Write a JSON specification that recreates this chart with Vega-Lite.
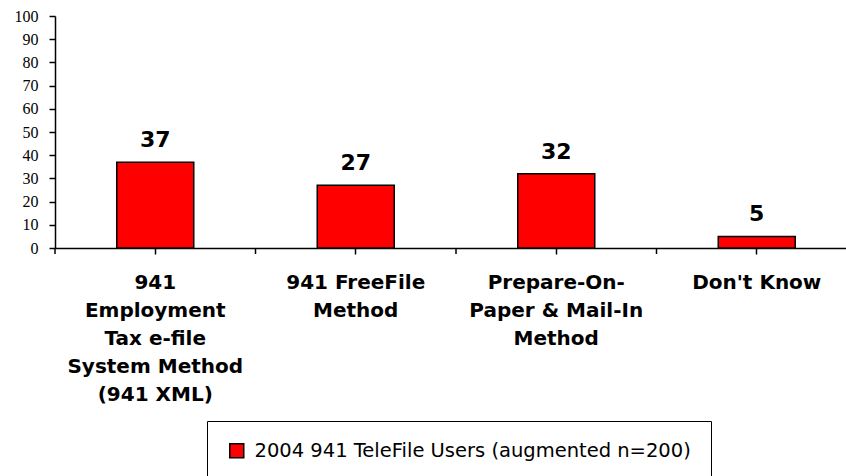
{
  "$schema": "https://vega.github.io/schema/vega-lite/v6.json",
  "autosize": "none",
  "width": 791,
  "height": 232,
  "padding": {"left": 55, "top": 16, "right": 0, "bottom": 228},
  "background": "white",
  "config": {"view": {"stroke": null}},
  "data": {
    "values": [
      {"method": "941 Employment Tax e-file System Method (941 XML)", "pct": 37, "series": "2004 941 TeleFile Users (augmented n=200)"},
      {"method": "941 FreeFile Method", "pct": 27, "series": "2004 941 TeleFile Users (augmented n=200)"},
      {"method": "Prepare-On-Paper & Mail-In Method", "pct": 32, "series": "2004 941 TeleFile Users (augmented n=200)"},
      {"method": "Don't Know", "pct": 5, "series": "2004 941 TeleFile Users (augmented n=200)"}
    ]
  },
  "encoding": {
    "x": {
      "field": "method",
      "type": "nominal",
      "sort": null,
      "scale": {"range": [0, 802], "paddingInner": 0.616, "paddingOuter": 0.308},
      "axis": {
        "title": null,
        "labelAngle": 0,
        "labelFont": "DejaVu Sans",
        "labelFontWeight": "bold",
        "labelFontSize": 20,
        "labelColor": "black",
        "labelLineHeight": 28,
        "labelBaseline": "top",
        "labelPadding": 18,
        "labelLimit": 0,
        "labelOverlap": false,
        "ticks": true,
        "tickSize": 6,
        "tickColor": "black",
        "tickWidth": 1.5,
        "domainColor": "black",
        "domainWidth": 1.5,
        "labelExpr": "datum.label == '941 Employment Tax e-file System Method (941 XML)' ? ['941','Employment','Tax e-file','System Method','(941 XML)'] : datum.label == '941 FreeFile Method' ? ['941 FreeFile','Method'] : datum.label == 'Prepare-On-Paper & Mail-In Method' ? ['Prepare-On-','Paper & Mail-In','Method'] : datum.label"
      }
    },
    "y": {
      "field": "pct",
      "type": "quantitative",
      "scale": {"domain": [0, 100], "nice": false},
      "axis": {
        "title": null,
        "grid": false,
        "values": [0, 10, 20, 30, 40, 50, 60, 70, 80, 90, 100],
        "labelFont": "Liberation Serif",
        "labelFontSize": 16,
        "labelColor": "black",
        "labelPadding": 11,
        "tickSize": 6,
        "tickColor": "black",
        "tickWidth": 1.5,
        "domainColor": "black",
        "domainWidth": 1.5
      }
    }
  },
  "layer": [
    {
      "mark": {"type": "bar", "stroke": "black", "strokeWidth": 1.5},
      "encoding": {
        "color": {
          "field": "series",
          "type": "nominal",
          "scale": {"range": ["#ff0000"]},
          "legend": {
            "title": null,
            "orient": "none",
            "legendX": 152,
            "legendY": 405,
            "padding": 20,
            "strokeColor": "black",
            "symbolType": "square",
            "symbolSize": 196,
            "symbolStrokeColor": "black",
            "symbolStrokeWidth": 1.5,
            "labelFont": "DejaVu Sans",
            "labelFontSize": 19.5,
            "labelColor": "black",
            "labelOffset": 8,
            "labelLimit": 0
          }
        }
      }
    },
    {
      "mark": {"type": "text", "dy": -15, "baseline": "alphabetic", "font": "DejaVu Sans", "fontWeight": "bold", "fontSize": 22, "color": "black"},
      "encoding": {"text": {"field": "pct", "type": "quantitative"}}
    },
    {
      "mark": {"type": "rule", "color": "black", "strokeWidth": 1.5, "xOffset": -61.75, "y2Offset": 6},
      "encoding": {
        "x": {"field": "method", "type": "nominal", "sort": null, "bandPosition": 0},
        "y": {"datum": 0, "type": "quantitative"},
        "y2": {"datum": 0}
      }
    }
  ]
}
